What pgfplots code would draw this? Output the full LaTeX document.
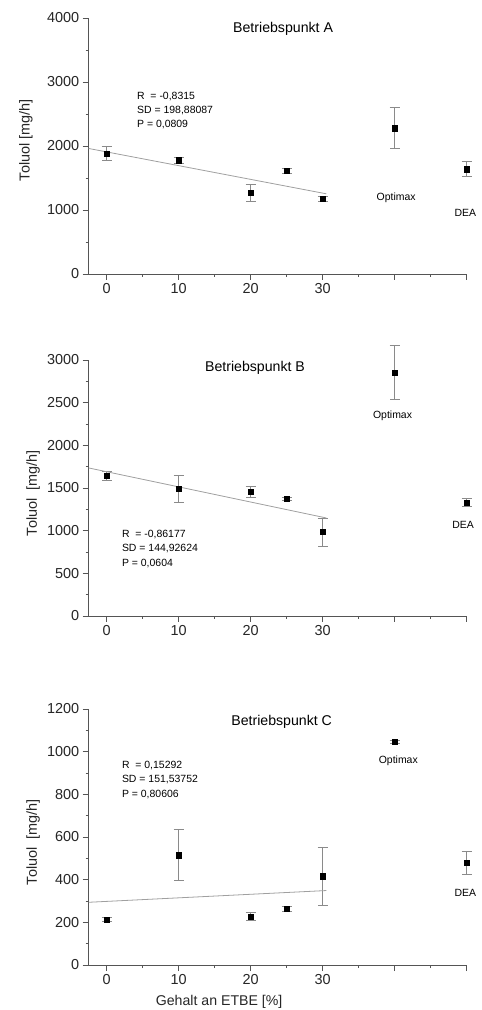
\documentclass[border=0pt]{standalone}
\usepackage{fontspec}
\setmainfont{Liberation Sans}
\usepackage{pgfplots}
\pgfplotsset{compat=1.18}
\definecolor{axgray}{HTML}{555555}
\definecolor{ebgray}{HTML}{8A8A8A}
\definecolor{fitgray}{HTML}{A0A0A0}
\pgfplotsset{
  myaxis/.style={
    scale only axis, width=378bp, height=256bp,
    axis lines=left, axis line style={-, draw=axgray, line width=0.9bp},
    tick align=outside, tick style={draw=axgray, line width=0.9bp},
    major tick length=6bp, minor tick length=3bp,
    xmin=-2.5, xmax=50,
    xtick={0,10,20,30,40,50}, xticklabels={0,10,20,30,,},
    minor x tick num=1, minor y tick num=1,
    clip=false,
    /pgf/number format/assume math mode=true,
    every tick label/.append style={font=\fontsize{14.5}{16}\selectfont, text=black!85},
    label style={font=\fontsize{14.5}{16}\selectfont, text=black!85},
    yticklabel style={/pgf/number format/1000 sep={}},
  },
  pts/.style={only marks, mark=square*, mark size=2.6bp, black,
    error bars/.cd, y dir=both, y explicit,
    error bar style={draw=ebgray, line width=0.7bp},
    error mark options={rotate=90, draw=ebgray, mark size=5bp, line width=0.7bp}},
  fit/.style={no marks, draw=fitgray, line width=0.8bp},
}
\newcommand{\ann}{\fontsize{10.5}{12}\selectfont}
\newcommand{\ttl}{\fontsize{14.2}{16}\selectfont}
\begin{document}
\begin{tikzpicture}
\useasboundingbox (0,0) rectangle (482bp,1010bp);
% ---------- A ----------
\begin{axis}[myaxis, at={(88.7bp,736bp)}, anchor=south west,
  ymin=0, ymax=4000, ytick={0,1000,...,4000},
  ylabel={Toluol [mg/h]},
  ylabel style={at={(axis description cs:-0.166,0.523)}, anchor=center}]
\addplot[pts] table[x=x, y=y, y error=e] {
x y e
0 1880 110
10 1778 45
20 1272 133
25 1611 40
30 1173 37
40 2279 320
50 1638 115
};
\addplot[fit] coordinates {(-2.5,1961) (30.5,1253)};
\node[font=\ttl] at (axis cs:24.5,3828) {Betriebspunkt A};
\node[font=\ann, anchor=west, inner sep=0] at (axis cs:4.2,2774) {R\ \ = -0,8315};
\node[font=\ann, anchor=west, inner sep=0] at (axis cs:4.2,2555) {SD = 198,88087};
\node[font=\ann, anchor=west, inner sep=0] at (axis cs:4.2,2331) {P = 0,0809};
\node[font=\ann] at (axis cs:40.2,1194) {Optimax};
\node[font=\ann] at (axis cs:49.8,960) {DEA};
\end{axis}
% ---------- B ----------
\begin{axis}[myaxis, at={(88.7bp,394bp)}, anchor=south west,
  ymin=0, ymax=3000, ytick={0,500,...,3000},
  ylabel={Toluol\ \ [mg/h]},
  ylabel style={at={(axis description cs:-0.147,0.48)}, anchor=center}]
\addplot[pts] table[x=x, y=y, y error=e] {
x y e
0 1645 55
10 1492 158
20 1453 68
25 1371 20
30 984 166
40 2855 322
50 1332 45
};
\addplot[fit] coordinates {(-2.5,1735) (30.5,1149)};
\node[font=\ttl] at (axis cs:20.6,2910) {Betriebspunkt B};
\node[font=\ann, anchor=west, inner sep=0] at (axis cs:2.1,957) {R\ \ = -0,86177};
\node[font=\ann, anchor=west, inner sep=0] at (axis cs:2.1,785) {SD = 144,92624};
\node[font=\ann, anchor=west, inner sep=0] at (axis cs:2.1,617) {P = 0,0604};
\node[font=\ann] at (axis cs:39.7,2348) {Optimax};
\node[font=\ann] at (axis cs:49.5,1070) {DEA};
\end{axis}
% ---------- C ----------
\begin{axis}[myaxis, at={(88.7bp,45bp)}, anchor=south west,
  ymin=0, ymax=1200, ytick={0,200,...,1200},
  ylabel={Toluol\ \ [mg/h]},
  ylabel style={at={(axis description cs:-0.147,0.48)}, anchor=center},
  xlabel={Gehalt an ETBE [\%]},
  xlabel style={at={(axis description cs:0.345,-0.143)}, anchor=center, font=\ttl}]
\addplot[pts] table[x=x, y=y, y error=e] {
x y e
0 213 9
10 515 119
20 227 19
25 263 11
30 416 136
40 1045 6
50 479 56
};
\addplot[fit] coordinates {(-2.5,294) (30.5,349)};
\node[font=\ttl] at (axis cs:24.3,1142) {Betriebspunkt C};
\node[font=\ann, anchor=west, inner sep=0] at (axis cs:2.1,934) {R\ \ = 0,15292};
\node[font=\ann, anchor=west, inner sep=0] at (axis cs:2.1,869) {SD = 151,53752};
\node[font=\ann, anchor=west, inner sep=0] at (axis cs:2.1,801) {P = 0,80606};
\node[font=\ann] at (axis cs:40.5,958) {Optimax};
\node[font=\ann] at (axis cs:49.8,340) {DEA};
\end{axis}
\end{tikzpicture}
\end{document}
